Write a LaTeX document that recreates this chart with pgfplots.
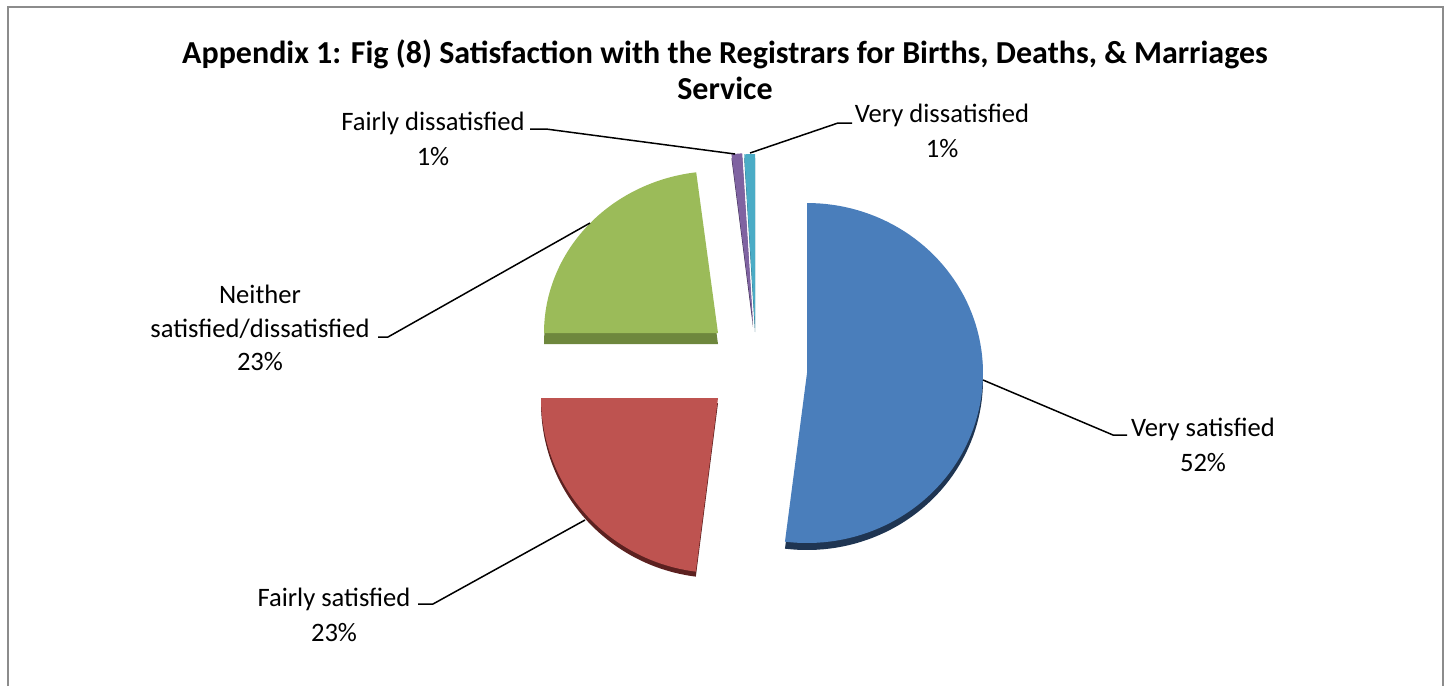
\documentclass[border=0pt]{standalone}
\usepackage{pgfplots}
\pgfplotsset{compat=1.18}
\usepackage{fontspec}
\setmainfont{Carlito}
\definecolor{cBlue}{HTML}{4A7EBB}
\definecolor{cRed}{HTML}{BE5350}
\definecolor{cGreen}{HTML}{9BBB59}
\definecolor{cPurple}{HTML}{7F63A1}
\definecolor{cTeal}{HTML}{4BACC6}
\definecolor{dBlue}{HTML}{1F3552}
\definecolor{dRed}{HTML}{5C2120}
\definecolor{dGreen}{HTML}{6E873D}
\definecolor{dPurple}{HTML}{3F2F55}
\definecolor{dTeal}{HTML}{21637A}
\definecolor{frame}{HTML}{8C8C8C}
% shares (percent)
\def\vVS{52}\def\vFS{23}\def\vNE{23}\def\vFD{1}\def\vVD{1}
\newcommand{\slice}[9]{% cx, cy, Rx, Ry, start, end, color, dark, depth
  \addplot[fill=#8, draw=none, domain=#5:#6, samples=90, variable=\t]
    ({#1+#3*sin(\t)}, {#2+#9-#4*cos(\t)}) -- (axis cs:#1,#2+#9) -- cycle;
  \addplot[fill=#7, draw=none, domain=#5:#6, samples=90, variable=\t]
    ({#1+#3*sin(\t)}, {#2-#4*cos(\t)}) -- (axis cs:#1,#2) -- cycle;
}
\begin{document}
\begin{tikzpicture}
\pgfmathsetmacro\aA{3.6*\vVS}
\pgfmathsetmacro\aB{\aA+3.6*\vFS}
\pgfmathsetmacro\aC{\aB+3.6*\vNE}
\pgfmathsetmacro\aD{\aC+3.6*\vFD}
\pgfmathsetmacro\aE{\aD+3.6*\vVD}
\begin{axis}[
  scale only axis, width=724.5pt, height=343pt,
  xmin=0, xmax=1449, ymin=0, ymax=686, y dir=reverse,
  hide axis, clip=false,
]
\path (axis cs:0,0) rectangle (axis cs:1449,686);
\draw[frame, line width=1pt] (axis cs:8,686) -- (axis cs:8,7) -- (axis cs:1443,7) -- (axis cs:1443,686);
\slice{807}{373}{176}{170}{0}{\aA}{cBlue}{dBlue}{7}
\slice{718}{398}{177}{175}{\aA}{\aB}{cRed}{dRed}{5}
\slice{718}{333}{174}{162}{\aB}{\aC}{cGreen}{dGreen}{11}
\slice{753}{323}{172}{170}{\aC}{\aD}{cPurple}{dPurple}{4}
\slice{755}{328}{172}{174}{\aD}{\aE}{cTeal}{dTeal}{4}
% leader lines
\addplot[black, line width=0.75pt] coordinates {(983,380) (1113,435) (1127,435)};
\addplot[black, line width=0.75pt] coordinates {(585,520) (433,604) (418,604)};
\addplot[black, line width=0.75pt] coordinates {(590,223) (388,337) (378,337)};
\addplot[black, line width=0.75pt] coordinates {(530,129) (546,129) (735,154)};
\addplot[black, line width=0.75pt] coordinates {(750,153) (838,123) (852,123)};
% title
\node[align=center, font=\bfseries\fontsize{16}{18}\selectfont, inner sep=0pt] at (axis cs:725,70)
  {Appendix 1: Fig (8) Satisfaction with the Registrars for Births, Deaths, \& Marriages\\Service};
% labels
\tikzset{lab/.style={align=center, font=\fontsize{13.3}{17.5}\selectfont, inner sep=0pt}}
\node[lab] at (axis cs:1203,445) {Very satisfied\\52\%};
\node[lab] at (axis cs:334,615) {Fairly satisfied\\23\%};
\node[lab, font=\fontsize{13.3}{16.8}\selectfont] at (axis cs:260,328) {Neither\\satisfied/dissatisfied\\23\%};
\node[lab] at (axis cs:433,139) {Fairly dissatisfied\\1\%};
\node[lab] at (axis cs:942,131) {Very dissatisfied\\1\%};
\end{axis}
\end{tikzpicture}
\end{document}
